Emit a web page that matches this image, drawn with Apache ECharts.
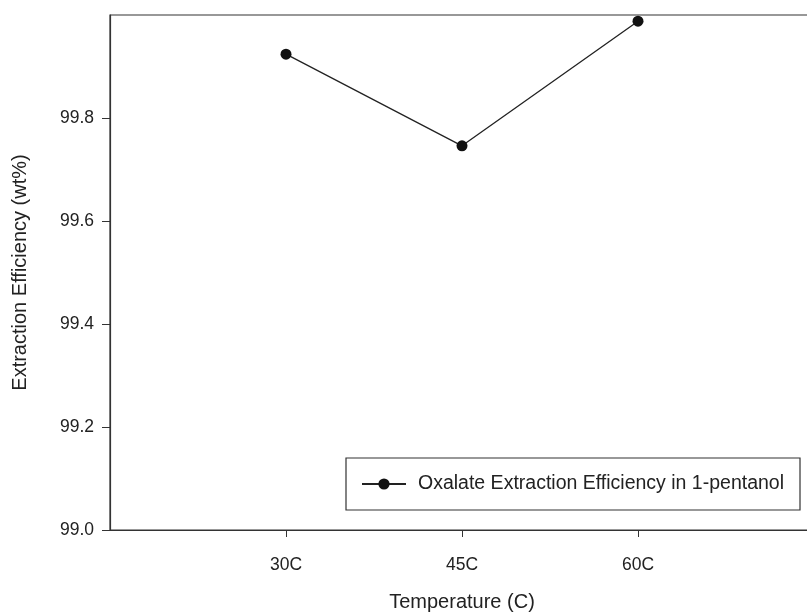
<!DOCTYPE html>
<html>
<head>
<meta charset="utf-8">
<script src="https://cdn.jsdelivr.net/npm/echarts@6/dist/echarts.min.js"></script>
<style>html,body{margin:0;padding:0;background:#fff}#c{width:807px;height:616px}</style>
</head>
<body>
<div id="c"></div>
<script>
const categories = ['30C', '45C', '60C'];
const positions = [1, 2, 3];
const efficiency = [99.924, 99.746, 99.988];
const yTicks = [99.0, 99.2, 99.4, 99.6, 99.8];
const seriesName = 'Oxalate Extraction Efficiency in 1-pentanol';

const chart = echarts.init(document.getElementById('c'), null, {renderer: 'canvas'});
const font = 'Liberation Sans, Arial, sans-serif';
chart.setOption({
  animation: false,
  backgroundColor: '#fff',
  grid: {left: 110, top: 15, width: 704, height: 515, show: true, borderColor: '#333', borderWidth: 1.2,
    containLabel: false, outerBoundsMode: 'none'},
  xAxis: {
    type: 'value', min: 0, max: 4, interval: 1,
    name: 'Temperature (C)', nameLocation: 'middle', nameGap: 62,
    nameTextStyle: {fontFamily: font, fontSize: 20, color: '#222'},
    axisLine: {show: true, lineStyle: {color: '#333', width: 1.2}},
    axisTick: {show: true, length: 7, customValues: positions, lineStyle: {color: '#333'}},
    axisLabel: {customValues: positions, margin: 26, fontFamily: font, fontSize: 17.5, color: '#222',
      formatter: v => categories[positions.indexOf(v)] || ''},
    splitLine: {show: false}
  },
  yAxis: {
    type: 'value', min: 99.0, max: 100.0, interval: 0.2,
    name: 'Extraction Efficiency (wt%)', nameLocation: 'middle', nameGap: 80,
    nameTextStyle: {fontFamily: font, fontSize: 20, color: '#222'},
    axisLine: {show: true, lineStyle: {color: '#333', width: 1.2}},
    axisTick: {show: true, length: 8, customValues: yTicks, lineStyle: {color: '#333'}},
    axisLabel: {customValues: yTicks, margin: 16, fontFamily: font, fontSize: 17.5, color: '#222',
      formatter: v => v.toFixed(1)},
    splitLine: {show: false}
  },
  legend: {
    show: true, left: 346, top: 458, orient: 'horizontal',
    padding: [16, 16, 16, 15],
    borderColor: '#333', borderWidth: 1.2, backgroundColor: '#fff',
    itemWidth: 44, itemHeight: 14,
    textStyle: {fontFamily: font, fontSize: 19.5, color: '#222', padding: [0, 0, 0, 7]},
    data: [seriesName]
  },
  series: [{
    name: seriesName, type: 'line',
    data: positions.map((p, i) => [p, efficiency[i]]),
    symbol: 'circle', symbolSize: 11, clip: false,
    itemStyle: {color: '#111'},
    lineStyle: {color: '#222', width: 1.3}
  }]
});
</script>
</body>
</html>
